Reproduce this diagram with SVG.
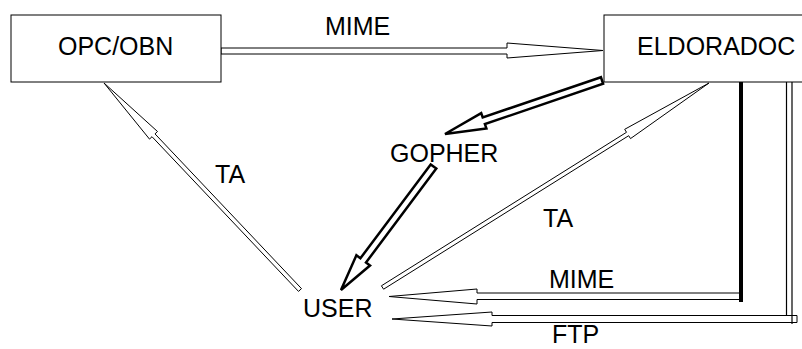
<svg xmlns="http://www.w3.org/2000/svg" width="802" height="349" viewBox="0 0 802 349">
<style>
.box{fill:#fff;stroke:#000;stroke-width:1}
.lbl{font-family:"Liberation Sans",Arial,sans-serif;font-size:25px;fill:#000}
.thin{fill:#fff;stroke:#000;stroke-width:1;stroke-linejoin:miter}
.bold{fill:#fff;stroke:#000;stroke-width:2.5;stroke-linejoin:miter}
.ln{stroke:#000;stroke-width:1.2;fill:none}
</style>
<rect width="802" height="349" fill="#fff"/>
<g id="connectors">
<polygon class="thin" points="221,48 507,48 507,43 603,50.5 507,58 507,54 221,54"/>
<polygon class="bold" points="600.9,77.2 482.7,117.5 481.2,113.2 445,134 486.4,128.4 484.9,124.1 603.1,83.8"/>
<polygon class="bold" points="430.7,164.4 360.4,258.3 356.4,255.3 341,290 370,265.5 366,262.5 436.3,168.6"/>
<polygon class="thin" points="301.5,288.6 155,133.9 157.5,131.5 104,83 149.5,139.1 152,136.7 298.5,291.4"/>
<polygon class="thin" points="383.6,289.2 628.7,135.7 630.5,138.6 709,83 624.7,129.3 626.5,132.3 381.4,285.8"/>
<polygon class="thin" points="741,293 477,293 477,289 389,296.5 477,304 477,299.5 741,299.5"/>
<rect x="739" y="82" width="4" height="220" fill="#000"/>
<polygon class="thin" points="797,315.5 492,315.5 492,312 392,319 492,326 492,322.5 797,322.5"/>
<line class="ln" x1="786.5" y1="82" x2="786.5" y2="315.5"/>
<line class="ln" x1="792" y1="82" x2="792" y2="324"/>
<text class="lbl" x="325" y="35" font-size="24">MIME</text>
<text class="lbl" x="215" y="183">TA</text>
<text class="lbl" x="543" y="227">TA</text>
<text class="lbl" x="549" y="288">MIME</text>
<text class="lbl" x="552" y="343">FTP</text>
</g>
<g id="opc">
<rect class="box" x="11" y="15" width="210" height="67"/>
<text class="lbl" x="58" y="55">OPC/OBN</text>
</g>
<g id="eldoradoc">
<rect class="box" x="604" y="15" width="210" height="67"/>
<text class="lbl" x="637" y="55">ELDORADOC</text>
</g>
<g id="gopher">
<text class="lbl" x="390" y="162">GOPHER</text>
</g>
<g id="user">
<text class="lbl" x="303" y="317">USER</text>
</g>
</svg>
